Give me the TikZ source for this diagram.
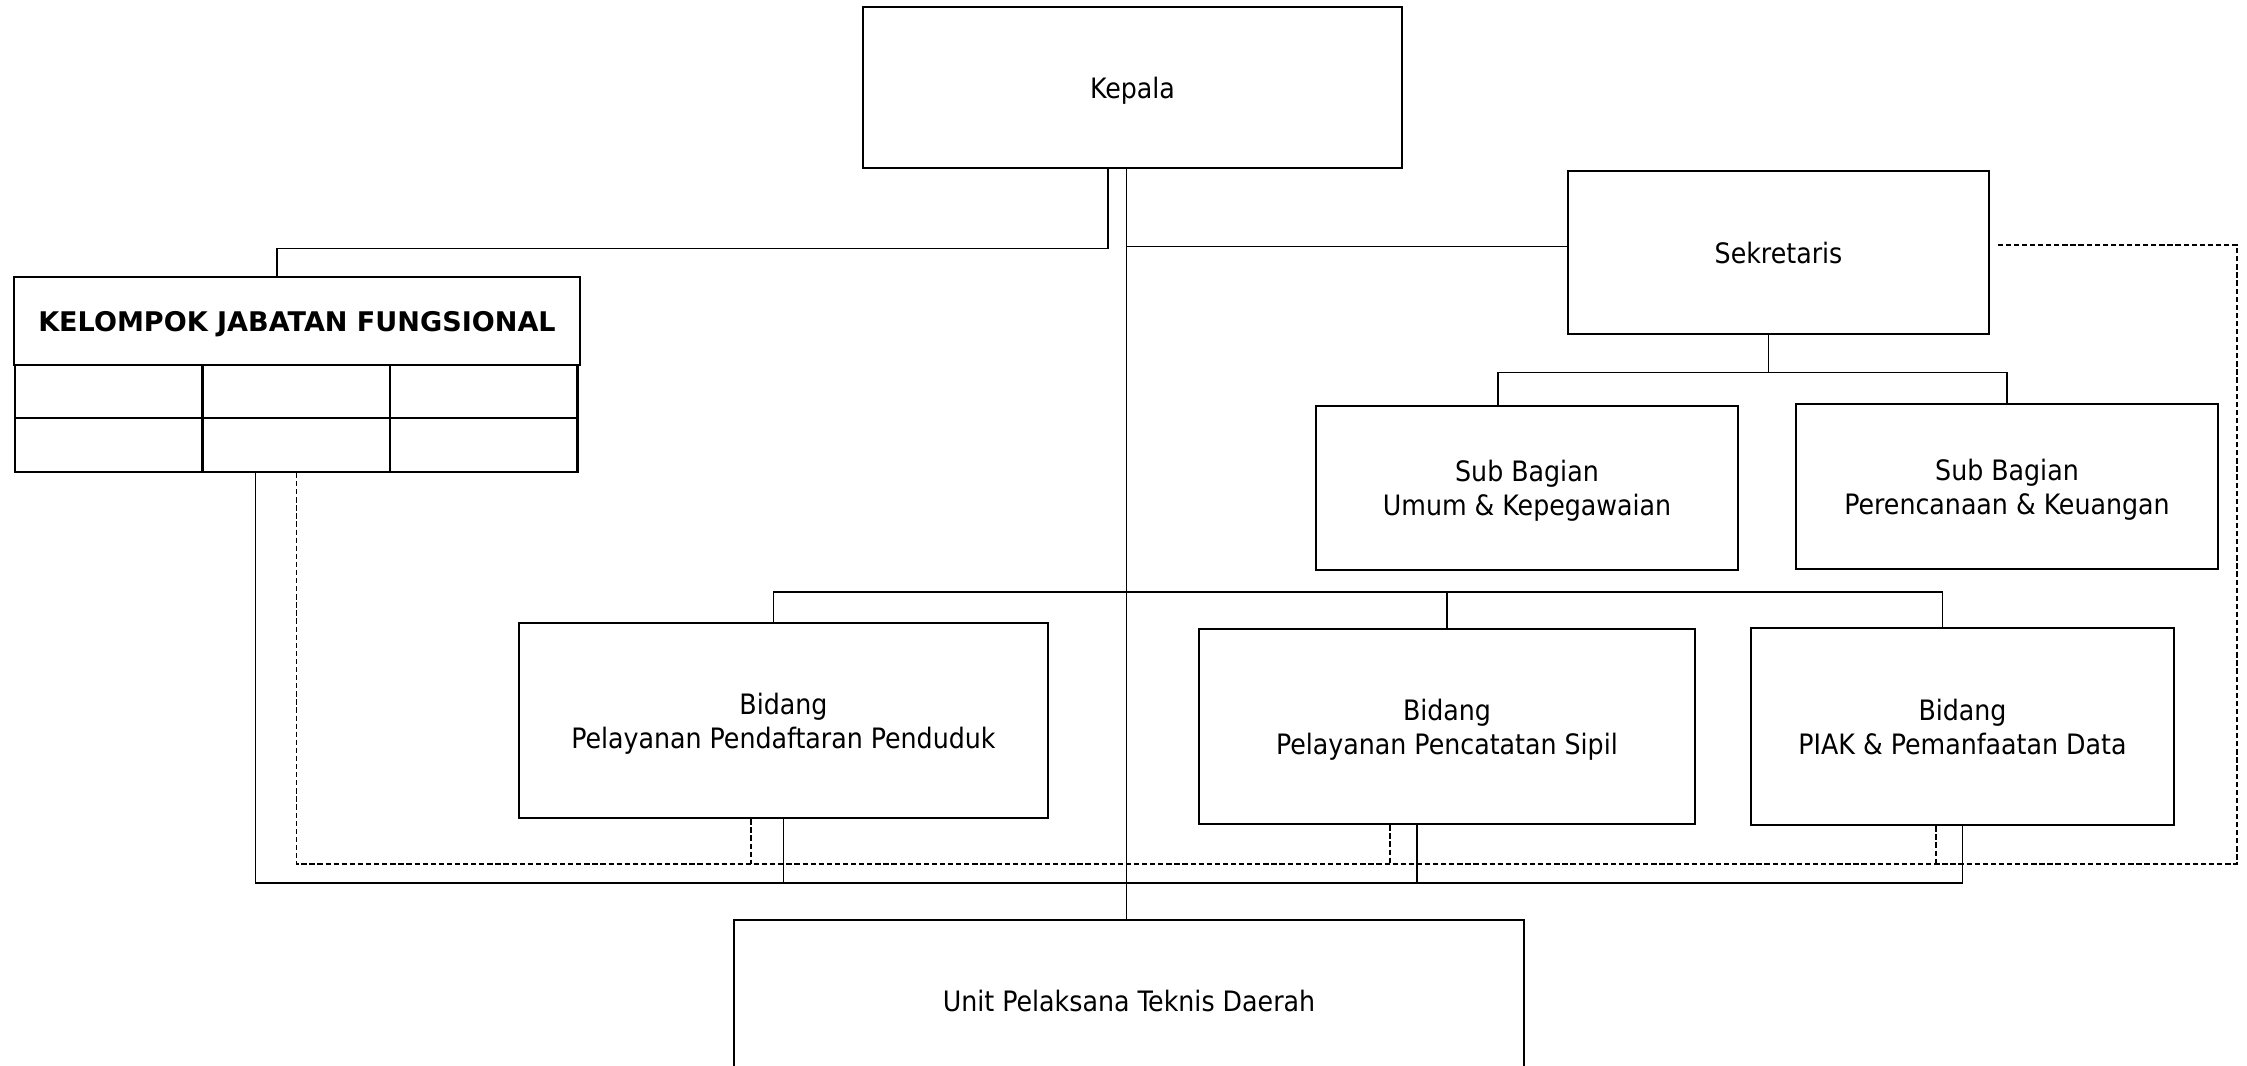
\documentclass[tikz,border=0pt]{standalone}
\usepackage{fontspec}
\setmainfont{DejaVu Sans Condensed}
\newfontfamily\widefont{DejaVu Sans}
\usepackage{tikz}
\usetikzlibrary{calc, positioning}
\tikzstyle{block} = [rectangle, line width=0.7pt, draw=black, text centered, align=center, inner sep=0pt, text depth=0pt, font=\fontsize{8}{9.7}\selectfont]
\tikzstyle{cell} = [rectangle, line width=0.7pt, draw=black, minimum width=1.875cm, minimum height=0.535cm, inner sep=0pt]
\tikzstyle{wire} = [line width=0.35pt]
\tikzstyle{dashwire} = [line width=0.35pt, dash pattern=on 1.5pt off 0.8pt]

\begin{document}
\begin{tikzpicture}
	\clip (0,0) rectangle (22.47,-10.65);
	\node (Kepala) [block, minimum width=5.39cm, minimum height=1.61cm] at (11.325,-0.875) {Kepala};
	\node (Sekretaris) [block, minimum width=4.21cm, minimum height=1.63cm] at (17.785,-2.525) {Sekretaris};
	\node (SubUmum) [block, minimum width=4.22cm, minimum height=1.64cm] at (15.27,-4.88) {Sub Bagian\\Umum \& Kepegawaian};
	\node (SubKeuangan) [block, minimum width=4.22cm, minimum height=1.65cm] at (20.07,-4.865) {Sub Bagian\\Perencanaan \& Keuangan};
	\node (KJF) [block, font=\fontsize{7.7}{9.7}\widefont\bfseries, minimum width=5.66cm, minimum height=0.88cm] at (2.97,-3.21) {KELOMPOK JABATAN FUNGSIONAL};
	\foreach \r/\y in {1/-3.915, 2/-4.45}
		\foreach \c/\x in {1/1.0875, 2/2.9625, 3/4.8375}
			\node (Cell\r\c) [cell] at (\x,\y) {};
	\node (BidangPenduduk) [block, minimum width=5.29cm, minimum height=1.95cm] at (7.835,-7.205) {Bidang\\Pelayanan Pendaftaran Penduduk};
	\node (BidangSipil) [block, minimum width=4.96cm, minimum height=1.95cm] at (14.47,-7.265) {Bidang\\Pelayanan Pencatatan Sipil};
	\node (BidangData) [block, minimum width=4.23cm, minimum height=1.97cm] at (19.625,-7.265) {Bidang\\PIAK \& Pemanfaatan Data};
	\node (UPTD) [block, minimum width=7.90cm, minimum height=1.62cm] at (11.29,-10.01) {Unit Pelaksana Teknis Daerah};

	% bus points
	\coordinate (KepalaTrunk) at ([xshift=-0.6mm]Kepala.south);
	\coordinate (SekIn) at ([yshift=0.6mm]Sekretaris.west);
	\coordinate (SekOut) at ([xshift=0.7mm,yshift=0.75mm]Sekretaris.east);
	\coordinate (SekBus) at ([xshift=-1mm,yshift=-3.7mm]Sekretaris.south);
	\coordinate (BidBus) at (KepalaTrunk |- 0,-5.92);
	\coordinate (SolidBus) at (0,-8.83);
	\coordinate (DashCorner) at (22.37,-8.64);
	\coordinate (KJFOut) at ([xshift=-4.1mm]Cell22.south);
	\coordinate (SipilOut) at ([xshift=-3mm]BidangSipil.south);
	\coordinate (PendudukDash) at ([xshift=-3.25mm]BidangPenduduk.south);
	\coordinate (SipilDash) at ([xshift=-5.7mm]BidangSipil.south);
	\coordinate (DataDash) at ([xshift=-2.65mm]BidangData.south);

	\draw [wire] (KepalaTrunk) -- (KepalaTrunk |- UPTD.north);
	\draw [wire] ([xshift=-2.45mm]Kepala.south) -- ++(0,-0.79) -| ([xshift=-2mm]KJF.north);
	\draw [wire] (SekIn) -- (SekIn -| KepalaTrunk);
	\draw [wire] ([xshift=-1mm]Sekretaris.south) -- (SekBus);
	\draw [wire] ([xshift=-2.9mm]SubUmum.north) |- (SekBus) -| (SubKeuangan.north);
	\draw [wire] ([xshift=-1mm]BidangPenduduk.north) |- (BidBus) -| ([xshift=-2mm]BidangData.north);
	\draw [wire] (BidangSipil.north) -- (BidangSipil.north |- BidBus);

	\draw [wire] (KJFOut) |- (SolidBus -| BidangData.south) -- (BidangData.south);
	\draw [wire] (BidangPenduduk.south) -- (BidangPenduduk.south |- SolidBus);
	\draw [wire] (SipilOut) -- (SipilOut |- SolidBus);

	\draw [dashwire] (Cell22.south) |- (DashCorner) |- (SekOut);
	\draw [dashwire] (PendudukDash) -- (PendudukDash |- DashCorner);
	\draw [dashwire] (SipilDash) -- (SipilDash |- DashCorner);
	\draw [dashwire] (DataDash) -- (DataDash |- DashCorner);
\end{tikzpicture}
\end{document}
